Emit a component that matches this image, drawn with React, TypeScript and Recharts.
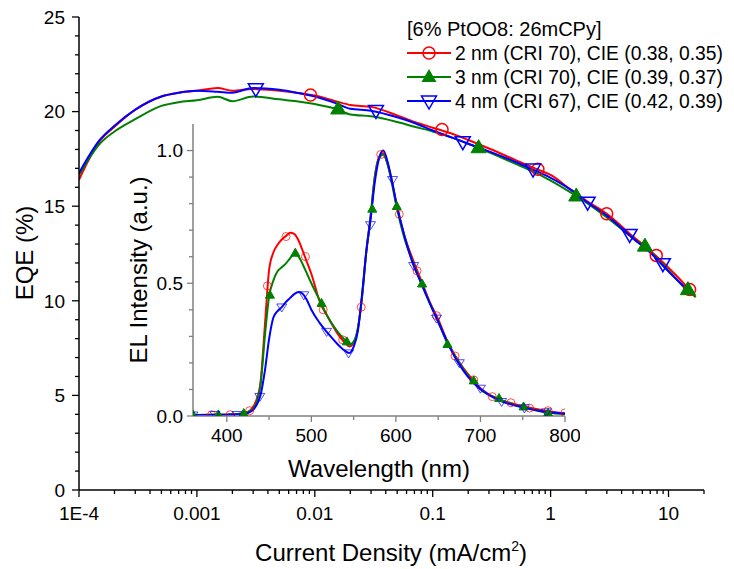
import React from "react";
import { ComposedChart, Line, Scatter, XAxis, YAxis } from "recharts";

const FONT = "'Liberation Sans', Arial, Helvetica, sans-serif";
const RED = "#ff0000";
const GREEN = "#008000";
const BLUE = "#0000ff";

// ---- EQE vs current density (mA/cm2) ----
const J = [
  1e-4, 1.5e-4, 2e-4, 3e-4, 5e-4, 7e-4, 0.001, 0.0015, 0.002, 0.003, 0.005, 0.007,
  0.01, 0.015, 0.02, 0.03, 0.05, 0.07, 0.1, 0.15, 0.2, 0.3, 0.5, 0.7, 1, 1.5, 2, 3,
  5, 7, 10, 15, 17,
];
const EQE_2NM = [
  16.4, 18.45, 19.2, 20.1, 20.8, 21.0, 21.1, 21.25, 21.1, 21.2, 21.1, 21.0, 20.85,
  20.55, 20.35, 20.25, 19.8, 19.45, 19.15, 18.8, 18.5, 18.05, 17.45, 17.05, 16.65,
  15.85, 15.3, 14.6, 13.4, 12.65, 11.75, 10.6, 10.2,
];
const EQE_3NM = [
  16.65, 18.3, 18.95, 19.6, 20.3, 20.5, 20.6, 20.78, 20.55, 20.8, 20.65, 20.55, 20.4,
  20.15, 19.85, 19.75, 19.45, 19.2, 18.95, 18.6, 18.3, 17.85, 17.25, 16.85, 16.35,
  15.7, 15.2, 14.4, 13.3, 12.6, 11.6, 10.45, 10.2,
];
const EQE_4NM = [
  16.75, 18.5, 19.25, 20.1, 20.8, 21.0, 21.1, 21.05, 21.0, 21.25, 21.15, 21.0, 20.8,
  20.45, 20.15, 20.05, 19.7, 19.4, 19.0, 18.6, 18.3, 17.9, 17.35, 16.95, 16.5, 15.85,
  15.25, 14.5, 13.3, 12.55, 11.55, 10.5, null,
];

// symbols on the EQE curves
const MARK_J_2NM = [0.0092, 0.12, 0.78, 2.99, 7.87, 15.1];
const MARK_EQE_2NM = [20.88, 19.05, 16.95, 14.6, 12.4, 10.6];
const MARK_J_3NM = [0.0158, 0.245, 1.65, 6.31, 14.6];
const MARK_EQE_3NM = [20.15, 18.1, 15.55, 12.9, 10.6];
const MARK_J_4NM = [0.00316, 0.033, 0.18, 0.71, 2.06, 4.68, 8.95];
const MARK_EQE_4NM = [21.2, 20.05, 18.4, 16.95, 15.2, 13.5, 11.95];

// ---- EL spectra (inset) ----
const WL = [
  360, 380, 400, 420, 430, 435, 440, 445, 450, 455, 460, 465, 470, 475, 480, 485, 490,
  495, 500, 510, 520, 530, 540, 545, 550, 555, 560, 565, 570, 575, 580, 585, 590, 595,
  600, 610, 620, 630, 640, 650, 660, 670, 680, 690, 700, 720, 740, 760, 780, 800,
];
const EL_2NM = [
  0.004, 0.005, 0.005, 0.01, 0.03, 0.06, 0.13, 0.34, 0.55, 0.615, 0.645, 0.665, 0.678,
  0.69, 0.685, 0.66, 0.62, 0.578, 0.535, 0.43, 0.37, 0.315, 0.275, 0.262, 0.275, 0.33,
  0.45, 0.62, 0.75, 0.9, 0.975, 0.99, 0.95, 0.89, 0.81, 0.68, 0.59, 0.51, 0.43, 0.365,
  0.288, 0.228, 0.18, 0.14, 0.105, 0.065, 0.045, 0.03, 0.018, 0.01,
];
const EL_3NM = [
  0.004, 0.005, 0.005, 0.01, 0.025, 0.05, 0.12, 0.3, 0.45, 0.51, 0.545, 0.56, 0.575,
  0.595, 0.612, 0.6, 0.57, 0.535, 0.5, 0.435, 0.37, 0.322, 0.285, 0.268, 0.28, 0.33,
  0.45, 0.62, 0.75, 0.9, 0.97, 0.985, 0.95, 0.88, 0.8, 0.67, 0.58, 0.5, 0.425, 0.355,
  0.28, 0.225, 0.175, 0.135, 0.1, 0.066, 0.042, 0.026, 0.012, 0.008,
];
const EL_4NM = [
  0.003, 0.004, 0.005, 0.008, 0.02, 0.04, 0.08, 0.17, 0.29, 0.37, 0.395, 0.41, 0.43,
  0.445, 0.46, 0.467, 0.46, 0.435, 0.4, 0.35, 0.31, 0.274, 0.245, 0.237, 0.26, 0.32,
  0.46, 0.62, 0.74, 0.88, 0.97, 1.0, 0.96, 0.89, 0.81, 0.68, 0.575, 0.5, 0.425, 0.355,
  0.285, 0.22, 0.17, 0.13, 0.102, 0.062, 0.04, 0.025, 0.015, 0.008,
];

const MARK_WL_2NM = [382, 404, 427, 448, 470, 493, 514, 537, 559, 582, 604, 625, 648, 670, 692, 714, 736, 758, 780, 800];
const MARK_EL_2NM = [0.005, 0.005, 0.02, 0.49, 0.676, 0.6, 0.4, 0.287, 0.41, 0.985, 0.76, 0.547, 0.378, 0.226, 0.136, 0.073, 0.05, 0.03, 0.02, 0.012];
const MARK_WL_3NM = [360, 390, 420, 451, 481, 512, 542, 572, 601, 631, 661, 692, 722, 751, 780];
const MARK_EL_3NM = [0.005, 0.005, 0.01, 0.456, 0.614, 0.425, 0.28, 0.78, 0.79, 0.498, 0.27, 0.133, 0.067, 0.035, 0.011];
const MARK_WL_4NM = [360, 386, 412, 439, 465, 491, 518, 544, 570, 596, 621, 648, 675, 700, 725, 752, 778];
const MARK_EL_4NM = [0.003, 0.005, 0.005, 0.073, 0.41, 0.456, 0.318, 0.237, 0.72, 0.89, 0.566, 0.368, 0.2, 0.104, 0.054, 0.03, 0.015];

const LEGEND_TITLE = "[6% PtOO8: 26mCPy]";
const SERIES_NAMES = [
  "2 nm (CRI 70), CIE (0.38, 0.35)",
  "3 nm (CRI 70), CIE (0.39, 0.37)",
  "4 nm (CRI 67), CIE (0.42, 0.39)",
];

// ticks
const X_MAJOR = [1e-4, 0.001, 0.01, 0.1, 1, 10];
const X_MINOR = [1e-4, 0.001, 0.01, 0.1, 1]
  .flatMap((d) => [2, 3, 4, 5, 6, 7, 8, 9].map((m) => m * d))
  .concat([20]);
const Y_MAJOR = [0, 5, 10, 15, 20, 25];
const Y_MINOR = [1, 2, 3, 4, 6, 7, 8, 9, 11, 12, 13, 14, 16, 17, 18, 19, 21, 22, 23, 24];
const WL_MAJOR = [400, 500, 600, 700, 800];
const WL_MINOR = [450, 550, 650, 750];
const EL_MAJOR = [0, 0.5, 1.0];
const EL_MINOR = [0.1, 0.2, 0.3, 0.4, 0.6, 0.7, 0.8, 0.9];

function pts(xs: number[], ys: (number | null)[]) {
  return xs.map((x, i) => ({ x, y: ys[i] })).filter((p) => p.y != null);
}

function bottomTick(majors: number[], fmt: (v: number) => string, size: number, margin: number, minorLen: number, color: string, fs: number) {
  return (p: any) => {
    const v = p.payload.value;
    const major = majors.includes(v);
    const y0 = p.y - size - margin;
    return (
      <g>
        <line x1={p.x} x2={p.x} y1={y0} y2={y0 + (major ? size : minorLen)} stroke={color} strokeWidth={1.3} />
        {major && (
          <text x={p.x} y={p.y} dy="0.72em" textAnchor="middle" fontSize={fs} fontFamily={FONT} fill="#000">
            {fmt(v)}
          </text>
        )}
      </g>
    );
  };
}

function leftTick(majors: number[], fmt: (v: number) => string, size: number, margin: number, minorLen: number, color: string, fs: number) {
  return (p: any) => {
    const v = p.payload.value;
    const major = majors.includes(v);
    const x0 = p.x + size + margin;
    return (
      <g>
        <line x1={x0} x2={x0 - (major ? size : minorLen)} y1={p.y} y2={p.y} stroke={color} strokeWidth={1.3} />
        {major && (
          <text x={p.x} y={p.y} dy="0.36em" textAnchor="end" fontSize={fs} fontFamily={FONT} fill="#000">
            {fmt(v)}
          </text>
        )}
      </g>
    );
  };
}

const circle = (r: number, sw: number, op = 1) => (p: any) => (
  <circle cx={p.cx} cy={p.cy} r={r} fill="none" stroke={RED} strokeWidth={sw} strokeOpacity={op} />
);
const triUp = (w: number, h: number) => (p: any) => (
  <polygon
    points={`${p.cx},${p.cy - h * 0.6} ${p.cx - w / 2},${p.cy + h * 0.4} ${p.cx + w / 2},${p.cy + h * 0.4}`}
    fill={GREEN}
    stroke={GREEN}
    strokeWidth={1}
  />
);
const triDown = (w: number, h: number, sw: number, op = 1) => (p: any) => (
  <polygon
    points={`${p.cx},${p.cy + h * 0.6} ${p.cx - w / 2},${p.cy - h * 0.4} ${p.cx + w / 2},${p.cy - h * 0.4}`}
    fill="none"
    stroke={BLUE}
    strokeWidth={sw}
    strokeOpacity={op}
  />
);

const fmtJ = (v: number) => (v === 1e-4 ? "1E-4" : String(v));

export default function App() {
  return (
    <div style={{ position: "absolute", left: 0, top: 0, width: 734, height: 569, background: "#fff" }}>
      <ComposedChart width={734} height={569} margin={{ top: 17, right: 30, bottom: 19, left: 19 }}>
        <XAxis
          dataKey="x"
          type="number"
          scale="log"
          domain={[1e-4, 20]}
          allowDataOverflow
          ticks={[...X_MAJOR, ...X_MINOR]}
          interval={0}
          tickLine={false}
          tickSize={7}
          tickMargin={9}
          height={60}
          axisLine={{ stroke: "#000", strokeWidth: 1.5 }}
          tick={bottomTick(X_MAJOR, fmtJ, 7, 9, 4, "#000", 19)}
        />
        <YAxis
          dataKey="y"
          type="number"
          domain={[0, 25]}
          allowDataOverflow
          ticks={[...Y_MAJOR, ...Y_MINOR]}
          interval={0}
          tickLine={false}
          tickSize={7}
          tickMargin={7}
          width={60}
          axisLine={{ stroke: "#000", strokeWidth: 1.5 }}
          tick={leftTick(Y_MAJOR, (v) => String(v), 7, 7, 4, "#000", 19)}
        />
        <Line data={pts(J, EQE_2NM)} dataKey="y" type="monotone" stroke={RED} strokeWidth={2} dot={false} isAnimationActive={false} />
        <Line data={pts(J, EQE_3NM)} dataKey="y" type="monotone" stroke={GREEN} strokeWidth={2} dot={false} isAnimationActive={false} />
        <Line data={pts(J, EQE_4NM)} dataKey="y" type="monotone" stroke={BLUE} strokeWidth={2} dot={false} isAnimationActive={false} />
        <Scatter data={pts(MARK_J_2NM, MARK_EQE_2NM)} shape={circle(6, 1.5)} isAnimationActive={false} />
        <Scatter data={pts(MARK_J_3NM, MARK_EQE_3NM)} shape={triUp(15, 13)} isAnimationActive={false} />
        <Scatter data={pts(MARK_J_4NM, MARK_EQE_4NM)} shape={triDown(15, 13, 1.5)} isAnimationActive={false} />
      </ComposedChart>

      <div style={{ position: "absolute", left: 100, top: 100 }}>
        <ComposedChart width={480} height={390} margin={{ top: 24, right: 15, bottom: 24, left: 30 }}>
          <XAxis
            dataKey="x"
            type="number"
            domain={[360, 800]}
            allowDataOverflow
            ticks={[...WL_MAJOR, ...WL_MINOR]}
            interval={0}
            tickLine={false}
            tickSize={6}
            tickMargin={6}
            height={50}
            axisLine={{ stroke: "#808080", strokeWidth: 1.5 }}
            tick={bottomTick(WL_MAJOR, (v) => String(v), 6, 6, 4, "#808080", 19)}
          />
          <YAxis
            dataKey="y"
            type="number"
            domain={[0, 1.1]}
            allowDataOverflow
            ticks={[...EL_MAJOR, ...EL_MINOR]}
            interval={0}
            tickLine={false}
            tickSize={6}
            tickMargin={4}
            width={63}
            axisLine={{ stroke: "#808080", strokeWidth: 1.5 }}
            tick={leftTick(EL_MAJOR, (v) => v.toFixed(1), 6, 4, 4, "#808080", 19)}
          />
          <Line data={pts(WL, EL_2NM)} dataKey="y" type="monotone" stroke={RED} strokeWidth={2} dot={false} isAnimationActive={false} />
          <Line data={pts(WL, EL_3NM)} dataKey="y" type="monotone" stroke={GREEN} strokeWidth={2} dot={false} isAnimationActive={false} />
          <Line data={pts(WL, EL_4NM)} dataKey="y" type="monotone" stroke={BLUE} strokeWidth={2} dot={false} isAnimationActive={false} />
          <Scatter data={pts(MARK_WL_2NM, MARK_EL_2NM)} shape={circle(4, 1, 0.7)} isAnimationActive={false} />
          <Scatter data={pts(MARK_WL_3NM, MARK_EL_3NM)} shape={triUp(9, 8)} isAnimationActive={false} />
          <Scatter data={pts(MARK_WL_4NM, MARK_EL_4NM)} shape={triDown(10, 8, 1, 0.7)} isAnimationActive={false} />
        </ComposedChart>
      </div>

      <svg width={734} height={569} style={{ position: "absolute", left: 0, top: 0, pointerEvents: "none" }} fontFamily={FONT}>
        <text x={33} y={253} transform="rotate(-90 33 253)" textAnchor="middle" fontSize={24}>
          EQE (%)
        </text>
        <text x={391} y={561} textAnchor="middle" fontSize={24}>
          Current Density (mA/cm
          <tspan dy={-10} fontSize={14}>2</tspan>
          <tspan dy={10}>)</tspan>
        </text>
        <text x={147} y={270} transform="rotate(-90 147 270)" textAnchor="middle" fontSize={24}>
          EL Intensity (a.u.)
        </text>
        <text x={379} y={477} textAnchor="middle" fontSize={24}>
          Wavelength (nm)
        </text>

        <text x={407} y={29} dy="0.36em" fontSize={20}>
          {LEGEND_TITLE}
        </text>
        {SERIES_NAMES.map((name, i) => {
          const y = 53 + i * 24;
          const color = [RED, GREEN, BLUE][i];
          const mx = 429;
          return (
            <g key={name}>
              <line x1={407} x2={451} y1={y} y2={y} stroke={color} strokeWidth={2} />
              {i === 0 && <circle cx={mx} cy={y} r={6} fill="none" stroke={RED} strokeWidth={1.5} />}
              {i === 1 && <polygon points={`${mx},${y - 8} ${mx - 7.5},${y + 5} ${mx + 7.5},${y + 5}`} fill={GREEN} />}
              {i === 2 && (
                <polygon points={`${mx},${y + 8} ${mx - 7.5},${y - 5} ${mx + 7.5},${y - 5}`} fill="none" stroke={BLUE} strokeWidth={1.5} />
              )}
              <text x={455} y={y} dy="0.36em" fontSize={19.3}>
                {name}
              </text>
            </g>
          );
        })}
      </svg>
    </div>
  );
}
